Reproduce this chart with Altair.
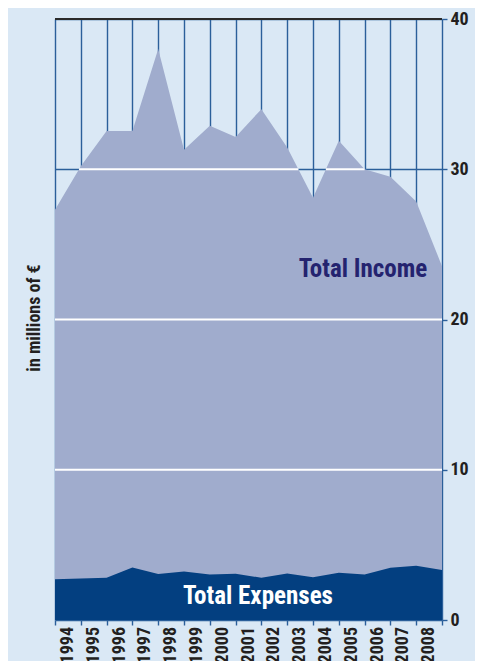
import altair as alt
import pandas as pd

# ---- data ----
years = [str(y) for y in range(1994, 2009)]
# values at the 16 year boundaries (start of 1994 ... end of 2008)
income = [27.3, 30.2, 32.55, 32.55, 38.0, 31.3, 32.9, 32.15, 34.0, 31.45,
          28.1, 31.9, 30.0, 29.5, 27.85, 23.55]
expenses = [2.71, 2.77, 2.81, 3.5, 3.06, 3.23, 3.03, 3.08, 2.81, 3.1,
            2.84, 3.14, 3.03, 3.48, 3.61, 3.32]
y_ticks = [0, 10, 20, 30, 40]
white_levels = [10, 20]
mid_level = 30
top_level = 40

FONT = "Liberation Sans Narrow, Arial Narrow, Roboto Condensed, DejaVu Sans Condensed, sans-serif"
BG = "#dae8f5"
GRID = "#2b5f9a"
INCOME_FILL = "#a0accd"
EXP_FILL = "#033f80"

n = len(income)
df = pd.DataFrame({"idx": list(range(n)), "income": income, "expenses": expenses})
lab = pd.DataFrame({"idx": list(range(len(years))), "year": years})

# white segments of the 30 line: only where income lies above it
segs = []
start = 0 if income[0] > mid_level else None
for i in range(n - 1):
    a, b = income[i], income[i + 1]
    if (a > mid_level) != (b > mid_level):
        t = i + (mid_level - a) / (b - a)
        if start is None:
            start = t
        else:
            segs.append((start, t))
            start = None
if start is not None:
    segs.append((start, n - 1))
segdf = pd.DataFrame({"x0": [s[0] for s in segs], "x1": [s[1] for s in segs]})

xs = alt.Scale(domain=[0, n - 1], nice=False, zero=False)
ys = alt.Scale(domain=[0, top_level], nice=False, zero=True)

xaxis = alt.Axis(
    values=list(range(n)), grid=True, gridColor=GRID, gridWidth=1.4,
    labels=False, domain=False, ticks=True, tickColor=GRID, tickSize=5,
    tickWidth=1.4, title=None)
yaxis = alt.Axis(
    orient="right", values=y_ticks, grid=True, gridColor=GRID, gridWidth=1.4,
    domain=False, tickColor=GRID, tickSize=5, tickWidth=1.4, labelPadding=3,
    labelFont=FONT, labelFontSize=18, labelFontWeight="bold",
    labelColor="#231f20", title=None)

income_area = alt.Chart(df).mark_area(color=INCOME_FILL, opacity=1).encode(
    x=alt.X("idx:Q", scale=xs, axis=xaxis),
    y=alt.Y("income:Q", scale=ys, axis=yaxis),
)

exp_area = alt.Chart(df).mark_area(color=EXP_FILL, opacity=1).encode(
    x=alt.X("idx:Q", scale=xs, axis=xaxis),
    y=alt.Y("expenses:Q", scale=ys, axis=yaxis),
)

white_rules = alt.Chart(pd.DataFrame({"v": white_levels})).mark_rule(
    color="white", strokeWidth=2).encode(y=alt.Y("v:Q", scale=ys, axis=yaxis))

white30 = alt.Chart(segdf).mark_rule(color="white", strokeWidth=2).encode(
    x=alt.X("x0:Q", scale=xs, axis=xaxis), x2="x1:Q",
    y=alt.datum(mid_level))

top_rule = alt.Chart(pd.DataFrame({"v": [top_level]})).mark_rule(
    color="#2a2a2a", strokeWidth=2).encode(y=alt.Y("v:Q", scale=ys, axis=yaxis))

year_labels = alt.Chart(lab).transform_calculate(
    pos="datum.idx + 0.5").mark_text(
    angle=270, align="right", baseline="middle", font=FONT, fontSize=18,
    fontWeight="bold", color="#231f20").encode(
    x=alt.X("pos:Q", scale=xs, axis=xaxis), y=alt.value(608), text="year:N")

income_txt = alt.Chart(pd.DataFrame({"t": ["Total Income"]})).mark_text(
    align="center", baseline="alphabetic", font=FONT, fontSize=25,
    fontWeight="bold", color="#24236f").encode(
    x=alt.value(308), y=alt.value(258), text="t:N")

exp_txt = alt.Chart(pd.DataFrame({"t": ["Total Expenses"]})).mark_text(
    align="center", baseline="alphabetic", font=FONT, fontSize=25,
    fontWeight="bold", color="white").encode(
    x=alt.value(203), y=alt.value(585), text="t:N")

ytitle = alt.Chart(pd.DataFrame({"t": ["in millions of €"]})).mark_text(
    align="center", baseline="middle", angle=270, font=FONT, fontSize=18,
    fontWeight="bold", color="#231f20").encode(
    x=alt.value(-20), y=alt.value(299), text="t:N")

chart = alt.layer(
    income_area, exp_area, white_rules, white30, top_rule,
    year_labels, income_txt, exp_txt, ytitle
).properties(
    width=387, height=601,
    autosize=alt.AutoSizeParams(type="none"),
    padding={"left": 47, "top": 11, "right": 33, "bottom": 42},
    background=BG,
).configure_view(stroke=None)

chart.save("out.html", embed_options={"renderer": "svg", "actions": False})
